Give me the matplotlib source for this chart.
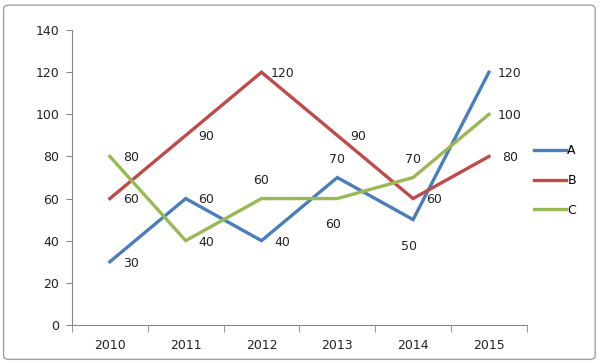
import matplotlib
matplotlib.use("Agg")
import matplotlib.pyplot as plt
from matplotlib.patches import FancyBboxPatch

years = ["2010", "2011", "2012", "2013", "2014", "2015"]
a_vals = [30, 60, 40, 70, 50, 120]
b_vals = [60, 90, 120, 90, 60, 80]
c_vals = [80, 40, 60, 60, 70, 100]

# label placement per point: r=right, u=above, d=below
a_pos = ["r", "r", "r", "u", "d", "r"]
b_pos = ["r", "r", "r", "r", "r", "r"]
c_pos = ["r", "r", "u", "d", "u", "r"]

offsets = {"r": (15, -1), "u": (0, 13), "d": (-3, -19)}

fig = plt.figure(figsize=(6, 3.63), dpi=100)
ax = fig.add_axes([0.12, 0.105, 0.758, 0.812])

border = FancyBboxPatch((0.006, 0.01), 0.986, 0.976, boxstyle="round,pad=0,rounding_size=0.01",
                        transform=fig.transFigure, fill=False, edgecolor="#a0a0a0", linewidth=1)
fig.patches.append(border)

x = list(range(len(years)))
series = [("A", a_vals, a_pos, "#4a7ebb"), ("B", b_vals, b_pos, "#be4b48"), ("C", c_vals, c_pos, "#98b954")]
for name, vals, pos, col in series:
    ax.plot(x, vals, color=col, linewidth=2.4, label=name, solid_joinstyle="miter")
    for xi, v, p in zip(x, vals, pos):
        dx, dy = offsets[p]
        ax.annotate(str(v), (xi, v), xytext=(dx, dy), textcoords="offset points",
                    ha="center", va="center", fontsize=9, color="#222222")

ax.set_xlim(-0.5, 5.5)
ax.set_ylim(0, 140)
ax.set_yticks(range(0, 141, 20))
ax.set_xticks(x)
ax.set_xticklabels(years)
ax.set_xticks([i - 0.5 for i in range(7)], minor=True)
ax.tick_params(axis="x", which="major", length=0, pad=10, labelsize=9, colors="#222222")
ax.tick_params(axis="x", which="minor", length=5, color="#868686")
ax.tick_params(axis="y", length=4, color="#868686", labelsize=9, labelcolor="#222222", pad=5)
for s in ["top", "right"]:
    ax.spines[s].set_visible(False)
for s in ["left", "bottom"]:
    ax.spines[s].set_color("#868686")

ax.legend(loc="center left", bbox_to_anchor=(0.99, 0.49), frameon=False, fontsize=9,
          handlelength=2.6, handletextpad=0.1, labelspacing=1.35)

fig.savefig("out.png", dpi=100)
